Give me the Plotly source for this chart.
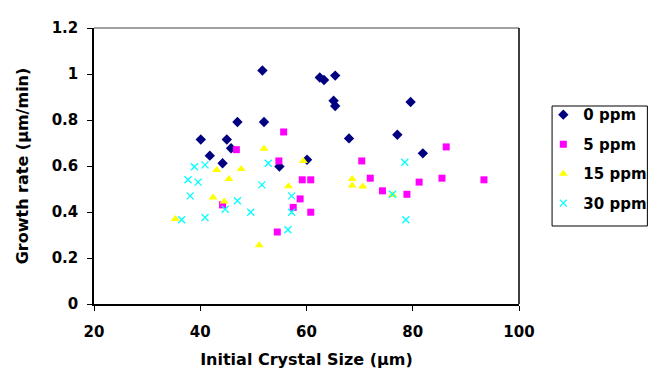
import plotly.graph_objects as go

# Data
x0 = [51.7, 62.5, 63.3, 65.4, 65.1, 65.4, 79.6, 68.0, 77.1, 81.9, 60.1, 47.0, 52.0, 40.1, 45.0, 45.8, 41.8, 44.2, 54.9]
y0 = [1.015, 0.985, 0.974, 0.993, 0.884, 0.861, 0.878, 0.720, 0.736, 0.655, 0.627, 0.791, 0.791, 0.715, 0.715, 0.677, 0.645, 0.612, 0.598]

x5 = [55.7, 46.8, 54.8, 86.3, 70.4, 59.2, 60.8, 72.0, 81.2, 85.5, 93.4, 74.3, 78.9, 58.8, 57.5, 60.8, 54.5, 44.2]
y5 = [0.748, 0.671, 0.622, 0.683, 0.622, 0.540, 0.540, 0.547, 0.530, 0.547, 0.540, 0.492, 0.477, 0.457, 0.420, 0.399, 0.313, 0.431]

x15 = [52.0, 59.4, 43.1, 47.7, 45.4, 56.6, 42.4, 44.5, 35.3, 51.1, 68.6, 68.6, 70.6, 76.2]
y15 = [0.675, 0.622, 0.583, 0.587, 0.544, 0.512, 0.463, 0.446, 0.370, 0.255, 0.544, 0.515, 0.511, 0.474]

x30 = [38.9, 40.9, 52.8, 78.5, 37.7, 39.6, 51.6, 38.1, 57.2, 47.0, 44.7, 57.2, 49.5, 36.5, 40.9, 56.5, 76.2, 78.7]
y30 = [0.597, 0.605, 0.612, 0.616, 0.540, 0.530, 0.518, 0.470, 0.470, 0.449, 0.412, 0.399, 0.399, 0.366, 0.376, 0.323, 0.477, 0.366]

names = ["0 ppm", "5 ppm", "15 ppm", "30 ppm"]
FONT = "DejaVu Sans, sans-serif"

fig = go.Figure()
fig.add_trace(go.Scatter(x=x0, y=y0, mode="markers", name=names[0], legendgroup="a",
                         marker=dict(symbol="diamond", size=8, color="#000080")))
fig.add_trace(go.Scatter(x=x5, y=y5, mode="markers", name=names[1], legendgroup="b",
                         marker=dict(symbol="square", size=7, color="#FF00FF")))
fig.add_trace(go.Scatter(x=x15, y=y15, mode="markers", name=names[2], legendgroup="c",
                         marker=dict(symbol="triangle-up", size=8, color="#FFFF00")))
fig.add_trace(go.Scatter(x=x30, y=y30, mode="markers", name=names[3], legendgroup="d",
                         marker=dict(symbol="x-thin", size=7, color="#00FFFF",
                                     line=dict(color="#00FFFF", width=1.3))))

fig.update_layout(
    width=656, height=373,
    margin=dict(l=86, r=133, t=20, b=77),
    paper_bgcolor="white", plot_bgcolor="white",
    font=dict(family=FONT, size=15, color="black"),
    showlegend=True,
    legend=dict(x=(548 - 86) / 437, y=0.745, xanchor="left", yanchor="top",
                borderwidth=0, bgcolor="rgba(0,0,0,0)",
                font=dict(family=FONT, size=15, color="black", weight="bold"),
                tracegroupgap=7, itemwidth=30),
)
fig.update_xaxes(range=[20, 100], dtick=20, tick0=20, showgrid=False, zeroline=False,
                 automargin=False,
                 showline=True, linecolor="black", linewidth=1.5,
                 ticks="outside", ticklen=5, tickcolor="black", ticklabelstandoff=8,
                 tickfont=dict(family=FONT, size=15, weight="bold"),
                 title=dict(text="Initial Crystal Size (μm)", standoff=14,
                            font=dict(family=FONT, size=16, weight="bold")))
fig.update_yaxes(range=[0, 1.2], dtick=0.2, tick0=0, showgrid=False, zeroline=False,
                 automargin=False,
                 showline=True, linecolor="black", linewidth=1.5,
                 ticks="outside", ticklen=5, tickcolor="black", ticklabelstandoff=6,
                 tickformat="~g",
                 tickfont=dict(family=FONT, size=15, weight="bold"),
                 title=dict(text="Growth rate (μm/min)", standoff=19,
                            font=dict(family=FONT, size=16, weight="bold")))
fig.add_shape(type="line", xref="paper", yref="paper", x0=0, x1=1, y0=1, y1=1,
              line=dict(color="#808080", width=1.5))
fig.add_shape(type="line", xref="paper", yref="paper", x0=1, x1=1, y0=0, y1=1,
              line=dict(color="black", width=1.5))
# legend frame
fig.add_shape(type="rect", xref="paper", yref="paper",
              x0=(557 - 86) / 437, x1=(655 - 86) / 437,
              y0=(296 - 218) / 276, y1=(296 - 98) / 276,
              line=dict(color="black", width=1), fillcolor="rgba(0,0,0,0)")

fig.write_html("out.html")
